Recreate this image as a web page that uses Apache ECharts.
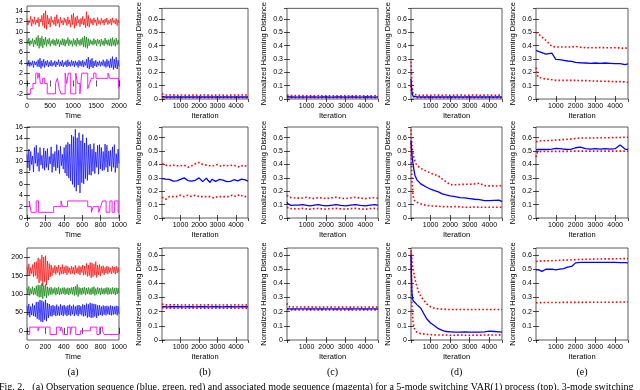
<!DOCTYPE html>
<html><head><meta charset="utf-8">
<script src="https://cdn.jsdelivr.net/npm/echarts@6/dist/echarts.min.js"></script>
<style>html,body{margin:0;padding:0;background:#fff}#c{width:640px;height:390px}</style>
</head><body><div id="c"></div>
<script>
// ---------- column (a): observation & mode sequences ----------
const r1Red = [12.6,11.3,12.2,11.8,13.0,11.1,12.4,11.6,12.9,11.4,
12.3,11.7,12.8,11.0,12.5,11.9,13.2,11.2,13.6,10.7,
14.1,10.5,13.2,11.5,12.6,10.9,13.0,11.8,12.3,11.4,
12.9,11.1,13.3,11.6,12.4,10.9,12.8,11.7,12.2,11.3,
12.7,11.8,12.4,11.2,12.9,11.5,12.3,10.9,13.3,11.4,
13.6,10.7,12.8,11.2,13.1,11.7,12.4,11.0,12.6,11.5,
13.0,11.3,12.5,10.8,13.9,11.1,13.2,10.9,12.6,11.6,
12.4,11.3,12.7,11.8,12.3,11.2,12.8,11.6,12.2,11.4,
12.6,11.7,12.3,11.3,12.5,11.8,12.7,11.4,12.2,11.6,
12.5,11.3,12.7,11.8,12.2,11.5,12.6,11.2,12.3,11.7];
const r1Green = [8.5,7.6,8.8,7.3,8.3,7.7,8.7,7.1,8.4,7.6,
8.9,7.3,9.3,6.8,8.8,7.2,9.1,6.9,8.6,7.5,
9.0,7.2,8.5,7.6,8.8,7.2,8.3,7.7,8.6,7.4,
8.4,7.3,8.7,7.6,8.5,7.1,8.3,7.5,8.7,7.4,
8.6,7.2,8.4,7.7,8.9,7.3,8.5,7.6,8.3,7.2,
8.7,7.5,8.4,7.2,8.8,7.6,8.4,7.3,8.6,7.5,
8.9,7.1,9.2,7.0,9.0,6.8,8.7,7.3,8.5,7.6,
8.3,7.4,8.7,7.6,8.4,7.3,8.6,7.7,8.4,7.2,
8.6,7.5,8.3,7.3,8.8,7.6,8.4,7.4,8.5,7.3,
8.7,7.2,8.9,7.4,8.5,7.2,8.8,7.5,8.4,7.6];
const r1Blue = [4.2,3.4,4.5,3.3,4.1,3.5,4.4,3.1,4.3,3.6,
4.2,3.3,4.6,3.2,4.9,2.9,4.4,3.3,4.7,3.1,
4.3,3.5,4.5,3.2,4.2,3.4,4.5,3.3,4.1,3.5,
4.4,3.2,4.2,3.6,4.6,3.3,4.2,3.4,4.5,3.2,
4.1,3.5,4.4,3.2,4.6,3.4,4.2,3.3,4.5,3.5,
4.3,3.2,4.4,3.5,4.2,3.1,4.5,3.4,4.3,3.3,
4.5,3.2,4.2,3.5,4.7,3.0,5.1,2.8,4.6,3.2,
4.9,3.0,4.3,3.4,4.5,3.2,4.2,3.5,4.4,3.3,
4.2,3.5,4.6,3.3,4.3,3.1,4.7,3.3,4.4,3.0,
4.8,3.1,5.2,2.7,4.7,3.0,5.1,2.8,4.5,3.3];
const mode1T = [0,80,130,190,235,265,290,340,385,440,620,660,700,740,830,860,900,950,1060,1100,1150,1190,1320,1360,1400,1450,1500,1760,1800,1990,2000];
const mode1V = [-2,-1,0,2,1,2,0,1,0,-2,0,1,-1,-2,2,0,2,-2,2,0,-2,2,-1,0,1,2,1,2,1,-1,-1];

const r2Blue = [11.2,8.8,12.1,8.3,11.7,9.4,10.9,8.1,12.4,9.6,
12.8,9.1,11.5,8.2,12.4,9.3,11.0,8.7,12.3,8.4,
11.8,8.9,12.2,8.4,10.8,9.5,12.5,8.0,11.3,9.0,
11.7,8.3,12.9,8.8,11.9,7.8,12.6,9.2,11.2,8.6,
12.4,7.9,12.9,7.4,13.3,7.0,13.0,6.5,14.6,5.9,
14.3,5.4,15.6,4.7,14.1,5.8,15.0,4.4,13.6,6.2,
14.7,6.0,13.2,6.9,14.1,6.6,12.8,7.6,13.0,7.5,
12.1,8.2,13.1,7.8,11.6,8.9,12.8,7.7,12.9,8.6,
12.4,8.3,11.7,8.4,13.0,8.9,12.8,8.1,11.8,9.1,
11.9,8.2,12.5,8.9,12.9,8.0,11.3,8.8,12.1,9.6];
const mode2T = [0,25,45,100,125,290,370,385,440,660,700,720,780,800,820,860,900,925,950,990,1000];
const mode2V = [2,3,1,3,1,2,3,2,3,2,1,2,1,2,3,1,3,1,3,1,1];

const r3Red = [175,152,182,149,172,155,180,147,186,150,
188,142,198,130,194,136,206,122,200,133,
204,124,190,138,183,146,179,150,172,157,
178,153,174,158,179,151,173,155,180,154,
174,157,177,152,175,158,171,154,176,156,
173,153,178,157,172,155,177,152,174,158,
179,151,176,153,183,148,179,150,186,144,
184,147,181,151,188,145,178,152,180,149,
175,156,177,152,172,157,176,154,174,158,
171,155,175,158,173,154,176,157,172,159];
const r3Green = [117,99,121,96,115,100,120,97,116,99,
122,94,125,91,124,92,129,87,123,94,
126,89,120,96,117,98,119,99,115,101,
118,97,116,100,119,98,115,99,117,101,
118,98,115,100,117,97,116,101,118,99,
119,96,121,98,126,93,118,99,116,98,
117,101,119,97,116,100,118,99,115,98,
118,100,120,96,115,99,118,101,116,97,
117,100,115,99,116,101,118,98,117,100,
115,99,118,101,116,97,117,100,116,102];
const r3Blue = [68,42,73,37,66,43,74,40,69,38,
78,33,79,30,84,25,82,24,79,30,
84,26,75,35,73,40,68,39,70,43,
67,40,71,42,66,41,72,43,68,40,
70,44,66,40,69,43,71,41,67,45,
71,40,66,44,69,40,70,45,67,42,
72,39,70,41,74,36,72,38,76,35,
74,36,73,39,72,35,69,41,70,43,
66,41,69,44,67,42,68,45,66,43,
69,42,67,44,66,45,68,42,67,46];
const mode3T = [0,30,120,130,250,320,360,375,395,440,470,485,530,580,690,760,790,820,840,1000];
const mode3V = [-10,10,0,10,-10,10,0,10,-10,10,-10,10,-10,0,10,-10,10,0,-10,-10];

// ---------- columns (b)-(e): normalized Hamming distance ----------
const itS = [0,25,50,100,150,200,300,400,500,600,800,1000,1200,1400,1600,1800,2000,2250,2500,2750,3000,3250,3500,3750,4000,4250,4500,4650];
const itF = [0,100,200,300,400,500,600,700,800,900,1000,1100,1200,1300,1400,1500,1600,1700,1800,1900,2000,2100,2200,2300,2400,2500,2600,2700,2800,2900,3000,3100,3200,3300,3400,3500,3600,3700,3800,3900,4000,4100,4200,4300,4400,4500,4600,4650];

const b1Blue=[0.020,0.017,0.016,0.015,0.015,0.016,0.015,0.015,0.016,0.015,0.015,0.016,0.015,0.015,0.016,0.015,0.015,0.016,0.015,0.015,0.016,0.015,0.015,0.016,0.015,0.015,0.016,0.015];
const b1Hi=[0.040,0.032,0.030,0.028,0.030,0.029,0.030,0.028,0.030,0.029,0.028,0.030,0.029,0.028,0.030,0.029,0.028,0.030,0.029,0.028,0.030,0.029,0.028,0.030,0.029,0.030,0.031,0.030];
const b1Lo=[0.012,0.010,0.010,0.010,0.009,0.010,0.010,0.010,0.009,0.010,0.010,0.010,0.009,0.010,0.010,0.010,0.009,0.010,0.010,0.010,0.009,0.010,0.010,0.010,0.009,0.010,0.010,0.010];
const c1Blue=[0.018,0.016,0.015,0.015,0.015,0.014,0.015,0.015,0.014,0.015,0.015,0.014,0.015,0.015,0.014,0.015,0.015,0.014,0.015,0.015,0.014,0.015,0.015,0.014,0.015,0.015,0.014,0.015];
const c1Hi=[0.030,0.026,0.025,0.024,0.025,0.024,0.025,0.024,0.025,0.024,0.025,0.024,0.025,0.024,0.025,0.024,0.025,0.024,0.025,0.024,0.025,0.024,0.025,0.024,0.025,0.024,0.025,0.024];
const c1Lo=[0.011,0.010,0.009,0.010,0.009,0.010,0.009,0.010,0.009,0.010,0.009,0.010,0.009,0.010,0.009,0.010,0.009,0.010,0.009,0.010,0.009,0.010,0.009,0.010,0.009,0.010,0.009,0.010];
const d1Blue=[0.150,0.090,0.050,0.022,0.018,0.017,0.016,0.016,0.015,0.016,0.015,0.015,0.016,0.015,0.015,0.016,0.015,0.015,0.016,0.015,0.015,0.016,0.015,0.015,0.016,0.015,0.015,0.016];
const d1Hi=[0.280,0.190,0.110,0.040,0.032,0.030,0.029,0.030,0.028,0.030,0.029,0.028,0.030,0.029,0.028,0.030,0.028,0.029,0.030,0.028,0.029,0.030,0.028,0.029,0.030,0.028,0.029,0.030];
const d1Lo=[0.100,0.050,0.025,0.012,0.010,0.010,0.009,0.010,0.010,0.009,0.010,0.010,0.009,0.010,0.010,0.009,0.010,0.010,0.009,0.010,0.010,0.009,0.010,0.010,0.009,0.010,0.010,0.009];
const e1Blue=[0.365,0.362,0.360,0.357,0.355,0.352,0.348,0.342,0.336,0.333,0.345,0.298,0.295,0.290,0.285,0.283,0.275,0.272,0.270,0.268,0.270,0.268,0.270,0.268,0.266,0.265,0.258,0.264];
const e1Hi=[0.500,0.498,0.495,0.490,0.485,0.480,0.465,0.450,0.440,0.425,0.395,0.390,0.390,0.390,0.390,0.390,0.395,0.388,0.385,0.385,0.385,0.386,0.385,0.385,0.385,0.383,0.378,0.388];
const e1Lo=[0.235,0.210,0.190,0.165,0.160,0.158,0.155,0.152,0.150,0.148,0.145,0.140,0.140,0.140,0.140,0.140,0.140,0.138,0.138,0.136,0.135,0.134,0.133,0.132,0.130,0.130,0.128,0.125];

const b2Blue=[0.295,0.298,0.290,0.285,0.288,0.283,0.276,0.272,0.278,0.282,0.288,0.292,0.300,0.290,0.280,0.285,0.276,0.270,0.282,0.292,0.300,0.290,0.272,0.286,0.298,0.280,0.265,0.290,0.284,0.274,0.280,0.288,0.292,0.283,0.276,0.272,0.268,0.274,0.280,0.286,0.283,0.278,0.284,0.290,0.296,0.285,0.280,0.276];
const b2Hi=[0.405,0.400,0.395,0.400,0.390,0.385,0.395,0.400,0.390,0.385,0.390,0.400,0.395,0.385,0.380,0.385,0.390,0.400,0.405,0.410,0.415,0.410,0.400,0.405,0.395,0.385,0.390,0.380,0.390,0.395,0.400,0.390,0.385,0.390,0.395,0.400,0.390,0.385,0.395,0.400,0.390,0.385,0.380,0.390,0.395,0.390,0.385,0.380];
const b2Lo=[0.155,0.150,0.140,0.150,0.160,0.165,0.160,0.155,0.160,0.165,0.170,0.165,0.160,0.165,0.170,0.165,0.160,0.165,0.170,0.165,0.160,0.165,0.160,0.155,0.160,0.165,0.160,0.155,0.150,0.155,0.160,0.155,0.160,0.155,0.160,0.165,0.160,0.165,0.170,0.165,0.160,0.170,0.175,0.165,0.160,0.170,0.160,0.155];
const c2Blue=[0.120,0.110,0.105,0.100,0.098,0.095,0.100,0.096,0.092,0.096,0.100,0.095,0.090,0.096,0.100,0.094,0.090,0.095,0.100,0.094,0.090,0.096,0.100,0.094,0.090,0.096,0.100,0.095];
const c2Hi=[0.170,0.165,0.160,0.155,0.150,0.148,0.152,0.155,0.148,0.145,0.150,0.155,0.148,0.145,0.152,0.150,0.145,0.150,0.155,0.148,0.145,0.150,0.155,0.148,0.145,0.150,0.152,0.148];
const c2Lo=[0.080,0.075,0.072,0.070,0.068,0.070,0.072,0.068,0.066,0.070,0.072,0.068,0.066,0.070,0.072,0.068,0.066,0.070,0.072,0.068,0.066,0.070,0.072,0.068,0.066,0.070,0.072,0.068];
const d2Blue=[0.580,0.520,0.470,0.410,0.360,0.320,0.285,0.270,0.255,0.245,0.230,0.215,0.205,0.195,0.180,0.172,0.165,0.160,0.152,0.150,0.145,0.140,0.138,0.130,0.130,0.132,0.133,0.122];
const d2Hi=[0.660,0.600,0.540,0.480,0.450,0.420,0.395,0.385,0.370,0.360,0.350,0.335,0.325,0.315,0.290,0.270,0.250,0.248,0.250,0.252,0.252,0.255,0.260,0.242,0.240,0.240,0.238,0.245];
const d2Lo=[0.560,0.400,0.280,0.170,0.140,0.125,0.115,0.110,0.105,0.100,0.095,0.090,0.090,0.088,0.085,0.085,0.083,0.085,0.083,0.080,0.080,0.082,0.080,0.080,0.080,0.080,0.080,0.080];
const e2Blue=[0.510,0.512,0.512,0.512,0.512,0.512,0.512,0.512,0.512,0.512,0.515,0.520,0.518,0.515,0.512,0.515,0.525,0.530,0.518,0.515,0.518,0.515,0.518,0.515,0.518,0.545,0.515,0.512];
const e2Hi=[0.570,0.572,0.573,0.574,0.575,0.575,0.576,0.577,0.578,0.579,0.580,0.582,0.584,0.586,0.588,0.590,0.595,0.598,0.598,0.598,0.598,0.600,0.600,0.600,0.602,0.602,0.603,0.603];
const e2Lo=[0.455,0.480,0.490,0.495,0.496,0.497,0.497,0.497,0.497,0.497,0.498,0.498,0.498,0.498,0.498,0.500,0.500,0.500,0.500,0.500,0.500,0.500,0.500,0.500,0.500,0.500,0.500,0.500];

const b3Blue=[0.236,0.235,0.235,0.234,0.235,0.235,0.234,0.235,0.235,0.234,0.235,0.235,0.234,0.235,0.235,0.234,0.235,0.235,0.234,0.235,0.235,0.234,0.235,0.235,0.234,0.235,0.235,0.234];
const b3Hi=[0.255,0.250,0.248,0.247,0.248,0.247,0.248,0.247,0.248,0.247,0.248,0.247,0.248,0.247,0.248,0.247,0.248,0.247,0.248,0.247,0.248,0.247,0.248,0.247,0.248,0.247,0.248,0.247];
const b3Lo=[0.228,0.226,0.225,0.225,0.224,0.225,0.225,0.224,0.225,0.225,0.224,0.225,0.225,0.224,0.225,0.225,0.224,0.225,0.225,0.224,0.225,0.225,0.224,0.225,0.225,0.224,0.225,0.225];
const c3Blue=[0.222,0.220,0.220,0.219,0.220,0.220,0.219,0.220,0.220,0.219,0.220,0.220,0.219,0.220,0.220,0.219,0.220,0.220,0.219,0.220,0.220,0.219,0.220,0.220,0.219,0.220,0.220,0.219];
const c3Hi=[0.260,0.245,0.236,0.232,0.233,0.232,0.233,0.232,0.233,0.232,0.233,0.232,0.233,0.232,0.233,0.232,0.233,0.232,0.233,0.232,0.233,0.232,0.233,0.232,0.233,0.232,0.233,0.232];
const c3Lo=[0.215,0.214,0.213,0.213,0.212,0.213,0.213,0.212,0.213,0.213,0.212,0.213,0.213,0.212,0.213,0.213,0.212,0.213,0.213,0.212,0.213,0.213,0.212,0.213,0.213,0.212,0.213,0.213];
const d3Blue=[0.600,0.450,0.330,0.280,0.270,0.265,0.250,0.240,0.225,0.200,0.150,0.120,0.100,0.080,0.068,0.060,0.058,0.055,0.055,0.057,0.055,0.055,0.056,0.058,0.062,0.060,0.058,0.055];
const d3Hi=[0.635,0.600,0.560,0.500,0.470,0.430,0.380,0.335,0.310,0.290,0.255,0.235,0.225,0.220,0.218,0.216,0.215,0.215,0.215,0.215,0.215,0.215,0.215,0.215,0.215,0.215,0.215,0.215];
const d3Lo=[0.620,0.400,0.250,0.130,0.090,0.070,0.055,0.048,0.045,0.042,0.040,0.038,0.036,0.035,0.035,0.035,0.033,0.034,0.035,0.034,0.033,0.035,0.034,0.035,0.036,0.035,0.036,0.037];
const e3Blue=[0.495,0.495,0.495,0.495,0.495,0.490,0.485,0.480,0.500,0.495,0.500,0.495,0.500,0.505,0.515,0.520,0.545,0.548,0.548,0.548,0.548,0.548,0.548,0.548,0.548,0.547,0.546,0.545];
const e3Hi=[0.555,0.555,0.556,0.556,0.557,0.557,0.558,0.558,0.559,0.559,0.560,0.562,0.563,0.564,0.565,0.566,0.568,0.569,0.570,0.571,0.572,0.572,0.573,0.573,0.574,0.574,0.575,0.575];
const e3Lo=[0.263,0.263,0.264,0.264,0.264,0.264,0.264,0.265,0.265,0.265,0.265,0.265,0.265,0.266,0.266,0.266,0.266,0.266,0.266,0.267,0.267,0.267,0.267,0.267,0.267,0.268,0.268,0.268];

const hd = [
  [null,[itS,b1Blue,b1Hi,b1Lo],[itS,c1Blue,c1Hi,c1Lo],[itS,d1Blue,d1Hi,d1Lo],[itS,e1Blue,e1Hi,e1Lo]],
  [null,[itF,b2Blue,b2Hi,b2Lo],[itS,c2Blue,c2Hi,c2Lo],[itS,d2Blue,d2Hi,d2Lo],[itS,e2Blue,e2Hi,e2Lo]],
  [null,[itS,b3Blue,b3Hi,b3Lo],[itS,c3Blue,c3Hi,c3Lo],[itS,d3Blue,d3Hi,d3Lo],[itS,e3Blue,e3Hi,e3Lo]]
];
const obs = [
  {span:2000, step:500, ymin:-3, ymax:15, ylabels:[-2,0,2,4,6,8,10,12,14], sig:[[r1Red,'#ff0000'],[r1Green,'#008000'],[r1Blue,'#0000ff']], mT:mode1T, mV:mode1V},
  {span:1000, step:200, ymin:0, ymax:16, ylabels:[0,2,4,6,8,10,12,14,16], sig:[[r2Blue,'#0000ff']], mT:mode2T, mV:mode2V},
  {span:1000, step:200, ymin:-25, ymax:225, ylabels:[0,50,100,150,200], sig:[[r3Red,'#ff0000'],[r3Green,'#008000'],[r3Blue,'#0000ff']], mT:mode3T, mV:mode3V}
];
const hdMax = [0.68, 0.68, 0.65];

// ---------- layout ----------
const FONT = 'Liberation Sans';
const cols = [[27,92],[162,86],[287,91],[411,91],[536,92]];
const rows = [[6,93],[127,91],[248,92]];
const grids=[], xAxes=[], yAxes=[], series=[];
const plain = v => String(v);
const lab = {fontFamily:FONT, fontSize:7, color:'#000', formatter:plain};
const tick = {inside:true, length:3, lineStyle:{color:'#000', width:0.7}};

function zip(xs, ys){ return ys.map((v,i)=>[xs[i], v]); }

for (let r=0; r<3; r++){
  for (let c=0; c<5; c++){
    const g = grids.length;
    grids.push({left:cols[c][0], top:rows[r][0], width:cols[c][1], height:rows[r][1],
      show:true, borderColor:'#333', borderWidth:0.8, backgroundColor:'#fff'});
    const xa = g*2, ya = g*2;
    if (c===0){
      const o = obs[r];
      const xb = {type:'value', gridIndex:g, min:0, max:o.span, interval:o.step,
        axisLine:{show:false}, splitLine:{show:false}, axisTick:tick};
      xAxes.push(Object.assign({}, xb, {position:'bottom', name:'Time', nameLocation:'middle', nameGap:13,
        nameTextStyle:{fontFamily:FONT, fontSize:7.5, color:'#000'}, axisLabel:Object.assign({margin:4}, lab)}));
      xAxes.push(Object.assign({}, xb, {position:'top', axisLabel:{show:false}}));
      const yb = {type:'value', gridIndex:g, min:o.ymin, max:o.ymax,
        axisLine:{show:false}, splitLine:{show:false},
        axisTick:Object.assign({customValues:o.ylabels}, tick)};
      yAxes.push(Object.assign({}, yb, {position:'left', axisLabel:Object.assign({margin:4, customValues:o.ylabels}, lab)}));
      yAxes.push(Object.assign({}, yb, {position:'right', axisLabel:{show:false}}));
      o.sig.forEach(([arr,col])=>{
        const n = arr.length;
        const xs = arr.map((v,i)=> i*o.span/(n-1));
        series.push({type:'line', xAxisIndex:xa, yAxisIndex:ya, data:zip(xs,arr), showSymbol:false,
          lineStyle:{color:col, width:0.7}, silent:true, animation:false});
      });
      series.push({type:'line', xAxisIndex:xa, yAxisIndex:ya, step:'end', data:zip(o.mT,o.mV), showSymbol:false,
        lineStyle:{color:'#ff00ff', width:0.9}, silent:true, animation:false});
    } else {
      const xb = {type:'value', gridIndex:g, min:0, max:4650, interval:1000,
        axisLine:{show:false}, splitLine:{show:false}, axisTick:tick};
      xAxes.push(Object.assign({}, xb, {position:'bottom', name:'Iteration', nameLocation:'middle', nameGap:13,
        nameTextStyle:{fontFamily:FONT, fontSize:7.5, color:'#000'},
        axisLabel:Object.assign({margin:4, showMinLabel:false, showMaxLabel:false}, lab)}));
      xAxes.push(Object.assign({}, xb, {position:'top', axisLabel:{show:false}}));
      const yb = {type:'value', gridIndex:g, min:0, max:hdMax[r], interval:0.1,
        axisLine:{show:false}, splitLine:{show:false}, axisTick:tick};
      yAxes.push(Object.assign({}, yb, {position:'left', name:'Normalized Hamming Distance', nameLocation:'middle',
        nameRotate:90, nameGap:19, nameTextStyle:{fontFamily:FONT, fontSize:7.5, color:'#000'},
        axisLabel:Object.assign({margin:4, showMaxLabel:false}, lab)}));
      yAxes.push(Object.assign({}, yb, {position:'right', axisLabel:{show:false}}));
      const [xs, blue, hi, lo] = hd[r][c];
      [[hi,'#ff0000',true],[lo,'#ff0000',true],[blue,'#0000ff',false]].forEach(([arr,col,dot])=>{
        series.push({type:'line', xAxisIndex:xa, yAxisIndex:ya, data:zip(xs,arr), showSymbol:false,
          lineStyle: dot ? {color:col, width:1.6, type:[1.6,2.2]} : {color:col, width:1.3},
          silent:true, animation:false});
      });
    }
  }
}

const panelLabels = ['(a)','(b)','(c)','(d)','(e)'];
const graphic = panelLabels.map((t,i)=>({type:'text', x:cols[i][0]+cols[i][1]/2, y:372,
  style:{text:t, font:'10px "Liberation Serif"', fill:'#000', align:'center', verticalAlign:'middle'}}));
graphic.push({type:'text', x:-1, y:382, style:{text:'Fig. 2.   (a) Observation sequence (blue, green, red) and associated mode sequence (magenta) for a 5-mode switching VAR(1) process (top), 3-mode switching',
  font:'10px "Liberation Serif"', fill:'#000', align:'left', verticalAlign:'top'}});

const chart = echarts.init(document.getElementById('c'), null, {renderer:'canvas'});
chart.setOption({animation:false, backgroundColor:'#fff', grid:grids, xAxis:xAxes, yAxis:yAxes, series:series, graphic:graphic});
</script></body></html>
